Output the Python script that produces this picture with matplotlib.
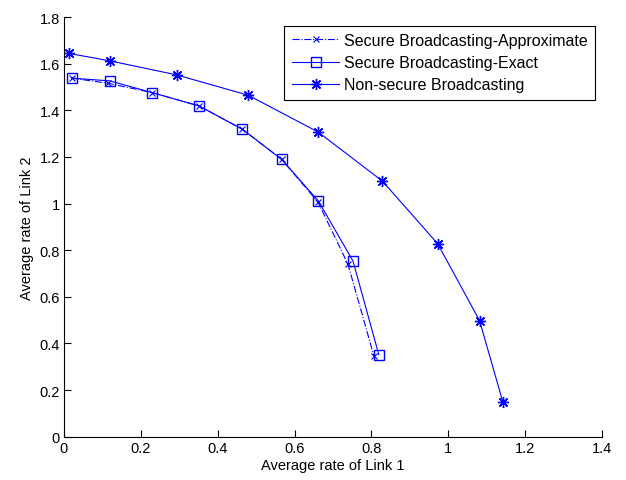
import matplotlib
matplotlib.use("Agg")
import matplotlib.pyplot as plt

# data
approx_x = [0.02, 0.115, 0.229, 0.351, 0.464, 0.566, 0.661, 0.739, 0.806]
approx_y = [1.538, 1.516, 1.476, 1.419, 1.319, 1.19, 1.006, 0.739, 0.348]

exact_x = [0.02, 0.12, 0.229, 0.351, 0.464, 0.566, 0.662, 0.752, 0.819]
exact_y = [1.538, 1.526, 1.476, 1.419, 1.319, 1.19, 1.011, 0.753, 0.352]

nonsec_x = [0.013, 0.12, 0.293, 0.479, 0.661, 0.828, 0.972, 1.081, 1.142]
nonsec_y = [1.644, 1.612, 1.552, 1.465, 1.307, 1.097, 0.828, 0.498, 0.147]

labels = ["Secure Broadcasting-Approximate",
          "Secure Broadcasting-Exact",
          "Non-secure Broadcasting"]

x_ticks = [0, 0.2, 0.4, 0.6, 0.8, 1, 1.2, 1.4]
y_ticks = [0, 0.2, 0.4, 0.6, 0.8, 1, 1.2, 1.4, 1.6, 1.8]

plt.rcParams['font.family'] = ['Liberation Sans', 'DejaVu Sans']
plt.rcParams['font.size'] = 10.5

fig = plt.figure(figsize=(6.26, 4.81), dpi=100)
ax = fig.add_axes([0.102, 0.09, 0.86, 0.8725])

blue = (0, 0, 1)
asterisk = (8, 2, 0)  # matlab-style '*'
ax.plot(approx_x, approx_y, '-.', color=blue, lw=0.8, marker='x', ms=5,
        mew=0.8, label=labels[0])
ax.plot(exact_x, exact_y, '-', color=blue, lw=0.8, marker='s', ms=7.5,
        mfc='none', mew=1.0, label=labels[1])
ax.plot(nonsec_x, nonsec_y, '-', color=blue, lw=0.8, marker=asterisk, ms=8,
        mew=1.0, label=labels[2])

ax.set_xlim(0, 1.4)
ax.set_ylim(0, 1.8)
ax.set_xticks(x_ticks)
ax.set_yticks(y_ticks)
ax.set_xticklabels(['0', '0.2', '0.4', '0.6', '0.8', '1', '1.2', '1.4'])
ax.set_yticklabels(['0', '0.2', '0.4', '0.6', '0.8', '1', '1.2', '1.4', '1.6', '1.8'])
ax.tick_params(direction='in', length=5, width=0.8, pad=3)
ax.spines['top'].set_visible(False)
ax.spines['right'].set_visible(False)

ax.set_xlabel("Average rate of Link 1", labelpad=2)
ax.set_ylabel("Average rate of Link 2", labelpad=4)

leg = ax.legend(loc='upper right', bbox_to_anchor=(0.987, 0.979),
                fancybox=False, edgecolor='black', framealpha=1,
                fontsize=11.5, handlelength=3.0, borderpad=0.45,
                labelspacing=0.45, handletextpad=0.3, borderaxespad=0)
leg.get_frame().set_linewidth(0.8)

fig.savefig("out.png", dpi=100)
